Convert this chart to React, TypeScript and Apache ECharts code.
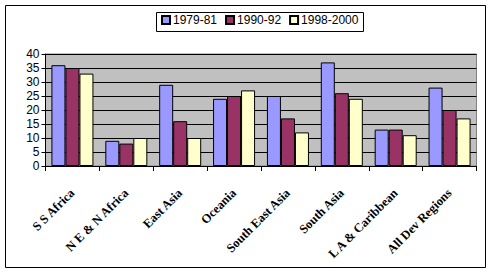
import React, { useEffect, useRef } from "react";
import * as echarts from "echarts";

const categories = [
  "S S Africa",
  "N E & N Africa",
  "East Asia",
  "Oceania",
  "South East Asia",
  "South Asia",
  "L A & Caribbean",
  "All Dev Regions",
];
const s1979 = [36, 9, 29, 24, 25, 37, 13, 28];
const s1990 = [35, 8, 16, 25, 17, 26, 13, 20];
const s1998 = [33, 10, 10, 27, 12, 24, 11, 17];
const seriesNames = ["1979-81", "1990-92", "1998-2000"];
const colors = ["#9999FF", "#993366", "#FFFFCC"];

export default function App() {
  const ref = useRef<HTMLDivElement>(null);
  useEffect(() => {
    const chart = echarts.init(ref.current!, null, { renderer: "svg" });
    const data = [s1979, s1990, s1998];
    chart.setOption({
      animation: false,
      backgroundColor: "#FFFFFF",
      graphic: [
        {
          type: "rect",
          shape: { x: 5.5, y: 5.5, width: 480, height: 262 },
          style: { fill: "none", stroke: "#000", lineWidth: 1 },
          silent: true,
        },
        {
          type: "rect",
          shape: { x: 156.5, y: 12.5, width: 207, height: 19 },
          style: { fill: "none", stroke: "#000", lineWidth: 1 },
          silent: true,
        },
      ],
      legend: {
        top: 14,
        left: 161,
        itemWidth: 8,
        itemHeight: 8,
        itemGap: 8,
        padding: 0,
        icon: "rect",
        textStyle: { fontFamily: "Liberation Sans", fontSize: 12, color: "#000", padding: [0, 0, 0, -2] },
        data: seriesNames,
      },
      grid: {
        left: 45.5,
        right: 14.5,
        top: 54,
        bottom: 107,
        show: true,
        backgroundColor: "#C0C0C0",
        borderColor: "#808080",
        borderWidth: 1,
      },
      xAxis: {
        type: "category",
        data: categories,
        axisLine: { lineStyle: { color: "#000" } },
        axisTick: { show: true, length: 5, lineStyle: { color: "#000" } },
        axisLabel: {
          rotate: 45,
          margin: 25,
          interval: 0,
          fontFamily: "Liberation Serif",
          fontWeight: "bold",
          fontSize: 12.5,
          color: "#000",
        },
      },
      yAxis: {
        type: "value",
        min: 0,
        max: 40,
        interval: 5,
        axisLine: { show: true, lineStyle: { color: "#000" } },
        axisTick: { show: true, length: 4, lineStyle: { color: "#000" } },
        axisLabel: { fontFamily: "Liberation Sans", fontSize: 12, color: "#000", margin: 6 },
        splitLine: { lineStyle: { color: "#000", width: 1 } },
      },
      series: seriesNames.map((n, i) => ({
        name: n,
        type: "bar",
        data: data[i],
        barGap: "0%",
        barCategoryGap: "22%",
        itemStyle: { color: colors[i], borderColor: "#000", borderWidth: 1 },
      })),
    });
    return () => chart.dispose();
  }, []);
  return (
    <div
      ref={ref}
      style={{ position: "fixed", left: 0, top: 0, width: 491, height: 273 }}
    />
  );
}
